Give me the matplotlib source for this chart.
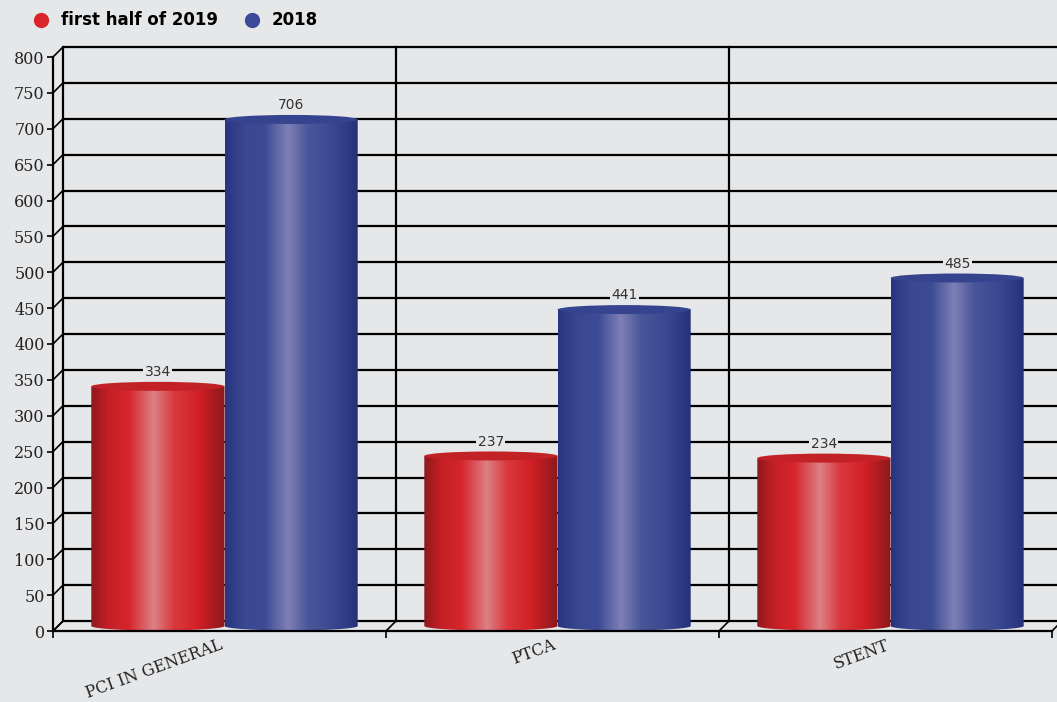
import matplotlib
matplotlib.use("Agg")
import matplotlib.pyplot as plt
import numpy as np
from matplotlib.colors import LinearSegmentedColormap
from matplotlib.patches import Ellipse, Polygon
from matplotlib.lines import Line2D

categories = ["PCI IN GENERAL", "PTCA", "STENT"]
h2019 = [334, 237, 234]
y2018 = [706, 441, 485]
series_names = ["first half of 2019", "2018"]

bg = "#e6e7e9"
W, H = 1057, 702
fig = plt.figure(figsize=(W / 100, H / 100), dpi=100, facecolor=bg)

# axes placed in pixel terms so the 3d offsets can be expressed in data units
L, B, AW, AH = 53, 71, 999, 574
ax = fig.add_axes([L / W, B / H, AW / W, AH / H])
ax.set_facecolor("none")
ax.set_xlim(-0.5, 2.5)
ax.set_ylim(0, 800)

DX = 3 / AW * 10      # depth offset, 10 px
DY = 800 / AH * 10
SX, SY = DX / 2, DY / 2   # bars sit half way in depth

lw = 1.6
# back wall grid
for v in range(0, 801, 50):
    ax.plot([-0.5 + DX, 2.5 + DX], [v + DY, v + DY], color="black", lw=lw,
            clip_on=False, zorder=1, solid_capstyle="butt")
    ax.plot([-0.5, -0.5 + DX], [v, v + DY], color="black", lw=1.2,
            clip_on=False, zorder=1)
for xb in [-0.5, 0.5, 1.5, 2.5]:
    ax.plot([xb + DX, xb + DX], [DY, 800 + DY], color="black", lw=lw,
            clip_on=False, zorder=1)
    ax.plot([xb, xb + DX], [0, DY], color="black", lw=1.2, clip_on=False, zorder=1)

red_cmap = LinearSegmentedColormap.from_list("r", [
    (0.0, "#8e191c"), (0.12, "#c21f25"), (0.28, "#d6262c"), (0.47, "#dc8085"),
    (0.62, "#d8393e"), (0.8, "#d22026"), (1.0, "#8c191c")])
blue_cmap = LinearSegmentedColormap.from_list("b", [
    (0.0, "#2a3480"), (0.15, "#394891"), (0.3, "#3d4b94"), (0.47, "#7e80b6"),
    (0.62, "#4a5699"), (0.82, "#394790"), (1.0, "#262f78")])
top_colors = ["#c22126", "#36438e"]

eh = 800 / AH * 9  # ellipse height in data units
grad = np.linspace(0, 1, 256).reshape(1, -1)

def cylinder(x0, x1, v, cmap, top_color, label):
    x0 += SX
    x1 += SX
    xc = (x0 + x1) / 2
    w = x1 - x0
    t = np.linspace(0, np.pi, 60)
    arc_x = xc + np.cos(t) * w / 2
    arc_y = SY - np.sin(t) * eh / 2
    pts = [(x1, v + SY)] + list(zip(arc_x, arc_y)) + [(x0, v + SY)]
    body = Polygon(pts, closed=True, facecolor="none", edgecolor="none")
    ax.add_patch(body)
    im = ax.imshow(grad, cmap=cmap, aspect="auto", interpolation="bilinear",
                   extent=[x0, x1, SY - eh / 2, v + SY], zorder=3)
    im.set_clip_path(body)
    ax.add_patch(Ellipse((xc, v + SY), w, eh, facecolor=top_color,
                         edgecolor="none", zorder=4))
    ax.annotate(label, (xc, v + SY + eh / 2), xytext=(0, 2),
                textcoords="offset points", ha="center", va="bottom",
                fontsize=10, color="#333333", zorder=5,
                bbox=dict(boxstyle="square,pad=0.1", facecolor=bg, edgecolor="none"))

for i in range(len(categories)):
    cylinder(i - 0.4, i, h2019[i], red_cmap, top_colors[0], str(h2019[i]))
    cylinder(i, i + 0.4, y2018[i], blue_cmap, top_colors[1], str(y2018[i]))

ax.set_xlim(-0.5, 2.5)
ax.set_ylim(0, 800)

for s in ["top", "right"]:
    ax.spines[s].set_visible(False)
ax.spines["left"].set_linewidth(lw)
ax.spines["bottom"].set_linewidth(lw)
ax.spines["left"].set_zorder(6)
ax.spines["bottom"].set_zorder(6)

ax.set_yticks(range(0, 801, 50))
ax.tick_params(axis="y", length=4, width=1.2, pad=2, labelsize=11.5)
for lab in ax.get_yticklabels():
    lab.set_family("DejaVu Serif")
    lab.set_color("#222222")

ax.set_xticks([-0.5, 0.5, 1.5, 2.5], minor=True)
ax.set_xticks(range(3))
ax.set_xticklabels(categories, family="DejaVu Serif", fontsize=11.5,
                   rotation=20, ha="right", rotation_mode="anchor", color="#222222")
ax.tick_params(axis="x", which="major", length=0, pad=4)
ax.tick_params(axis="x", which="minor", length=5, width=1.2)

handles = [Line2D([], [], marker="o", linestyle="none", markersize=11,
                  markerfacecolor=c, markeredgecolor="none")
           for c in ["#d8262c", "#3b4a99"]]
fig.legend(handles, series_names, loc="upper left", bbox_to_anchor=(0.009, 1.005),
           ncol=2, frameon=False, handletextpad=0.2, columnspacing=1.0,
           prop=dict(family="DejaVu Sans", weight="bold", size=12))

fig.savefig("out.png", dpi=100, facecolor=bg)
